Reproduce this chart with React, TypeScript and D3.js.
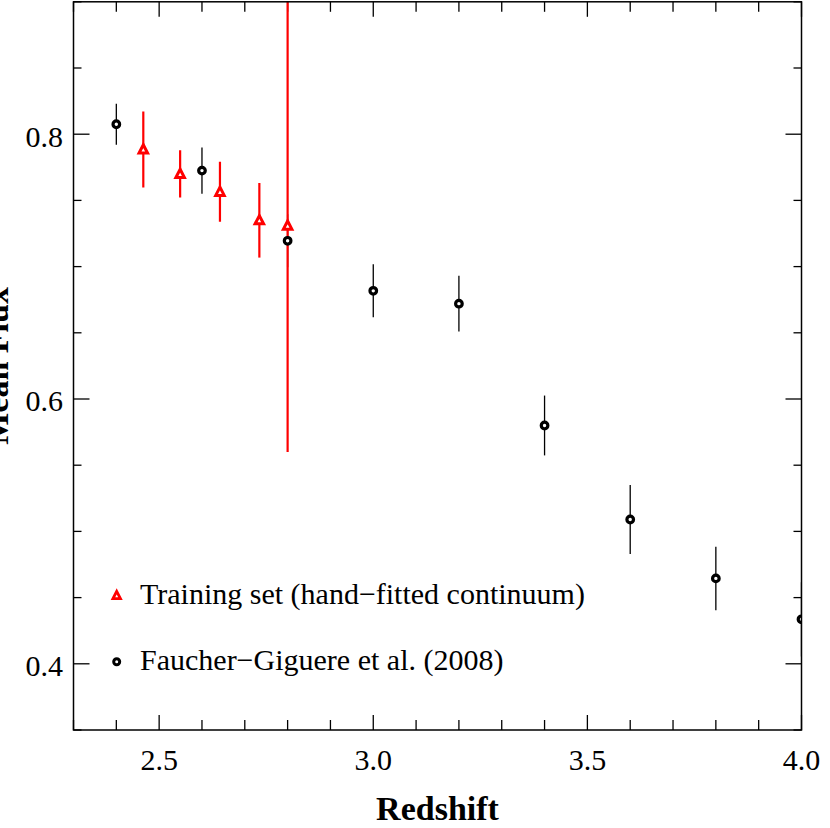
import React from "react";
import * as d3 from "d3";

// Faucher-Giguere et al. (2008)
const fgZ = [2.4, 2.6, 2.8, 3.0, 3.2, 3.4, 3.6, 3.8, 4.0];
const fgFlux = [0.8075, 0.7725, 0.7195, 0.6817, 0.672, 0.58, 0.509, 0.4645, 0.4336];
const fgErr = [0.0155, 0.0174, 0.02, 0.02, 0.021, 0.0226, 0.026, 0.024, 0.028];

// Training set (hand-fitted continuum)
const trZ = [2.463, 2.549, 2.642, 2.734, 2.8];
const trFlux = [0.7885, 0.7700, 0.7565, 0.735, 0.731];
const trErr = [0.0287, 0.0178, 0.0227, 0.0282, 0.171];

const xMajorTicks = [2.5, 3.0, 3.5, 4.0];
const yMajorTicks = [0.4, 0.6, 0.8];

const legendLabels = ["Training set (hand\u2212fitted continuum)", "Faucher\u2212Giguere et al. (2008)"];

const W = 830;
const H = 828;
const L = 73.5, R = 801.5, T = 1.8, B = 730;

export default function App() {
  const x = d3.scaleLinear().domain([2.3, 4.0]).range([L, R]);
  const y = d3.scaleLinear().domain([0.35, 0.9]).range([B, T]);
  const xMinor = d3.range(23, 41).map((v) => v / 10);
  const yMinor = d3.range(7, 19).map((v) => v / 20);
  const isXMajor = (v: number) => xMajorTicks.some((m) => Math.abs(m - v) < 1e-6);
  const isYMajor = (v: number) => yMajorTicks.some((m) => Math.abs(m - v) < 1e-6);
  const font = "'Liberation Serif', 'Times New Roman', serif";

  const tri = (cx: number, cy: number, s: number) => {
    const h = s * 0.85;
    return `M${cx},${cy - h / 2 - 1}L${cx + s / 2},${cy + h / 2}L${cx - s / 2},${cy + h / 2}Z`;
  };

  return (
    <svg width={W} height={H} style={{ position: "absolute", left: 0, top: 0, background: "#fff" }} fontFamily={font}>
      <defs>
        <clipPath id="plot">
          <rect x={L} y={T} width={R - L} height={B - T} />
        </clipPath>
      </defs>
      {/* ticks */}
      <g stroke="#000" strokeWidth={1.3}>
        {xMinor.map((v, i) => {
          const len = isXMajor(v) ? 15 : 10;
          return (
            <g key={"xt" + i}>
              <line x1={x(v)} x2={x(v)} y1={B} y2={B - len} />
              <line x1={x(v)} x2={x(v)} y1={T} y2={T + len} />
            </g>
          );
        })}
        {yMinor.map((v, i) => {
          const len = isYMajor(v) ? 16 : 8;
          return (
            <g key={"yt" + i}>
              <line x1={L} x2={L + len} y1={y(v)} y2={y(v)} />
              <line x1={R} x2={R - len} y1={y(v)} y2={y(v)} />
            </g>
          );
        })}
      </g>
      {/* data */}
      <g clipPath="url(#plot)">
        {fgZ.map((z, i) => (
          <line key={"fe" + i} x1={x(z)} x2={x(z)} y1={y(fgFlux[i] + fgErr[i])} y2={y(fgFlux[i] - fgErr[i])} stroke="#000" strokeWidth={1.3} />
        ))}
        {trZ.map((z, i) => (
          <line key={"te" + i} x1={x(z)} x2={x(z)} y1={y(trFlux[i] + trErr[i])} y2={y(trFlux[i] - trErr[i])} stroke="#ff0000" strokeWidth={2.2} />
        ))}
        {fgZ.map((z, i) => (
          <circle key={"fc" + i} cx={x(z)} cy={y(fgFlux[i])} r={3.3} fill="#fff" stroke="#000" strokeWidth={3.2} />
        ))}
        {trZ.map((z, i) => (
          <path key={"tp" + i} d={tri(x(z), y(trFlux[i]), 8.5)} fill="#fff" stroke="#ff0000" strokeWidth={3} strokeLinejoin="miter" />
        ))}
      </g>
      {/* frame */}
      <rect x={L} y={T} width={R - L} height={B - T} fill="none" stroke="#000" strokeWidth={1.5} />
      {/* tick labels */}
      <g fontSize={30} fill="#000">
        {xMajorTicks.map((v) => (
          <text key={"xl" + v} x={x(v)} y={769.5} textAnchor="middle">
            {d3.format(".1f")(v)}
          </text>
        ))}
        {yMajorTicks.map((v) => (
          <text key={"yl" + v} x={63} y={y(v) + 12.4} textAnchor="end">
            {d3.format(".1f")(v)}
          </text>
        ))}
      </g>
      {/* axis titles */}
      <text x={(L + R) / 2} y={820} textAnchor="middle" fontSize={34} fontWeight="bold">
        Redshift
      </text>
      <text transform={`translate(8,${(T + B) / 2}) rotate(-90)`} textAnchor="middle" fontSize={34} fontWeight="bold">
        Mean Flux
      </text>
      {/* legend */}
      <path d={tri(116.7, 595.5, 7.5)} fill="#fff" stroke="#ff0000" strokeWidth={2.8} />
      <text x={140} y={603.5} fontSize={30}>{legendLabels[0]}</text>
      <circle cx={116.7} cy={661.7} r={3} fill="#fff" stroke="#000" strokeWidth={3} />
      <text x={140} y={670} fontSize={30}>{legendLabels[1]}</text>
    </svg>
  );
}
